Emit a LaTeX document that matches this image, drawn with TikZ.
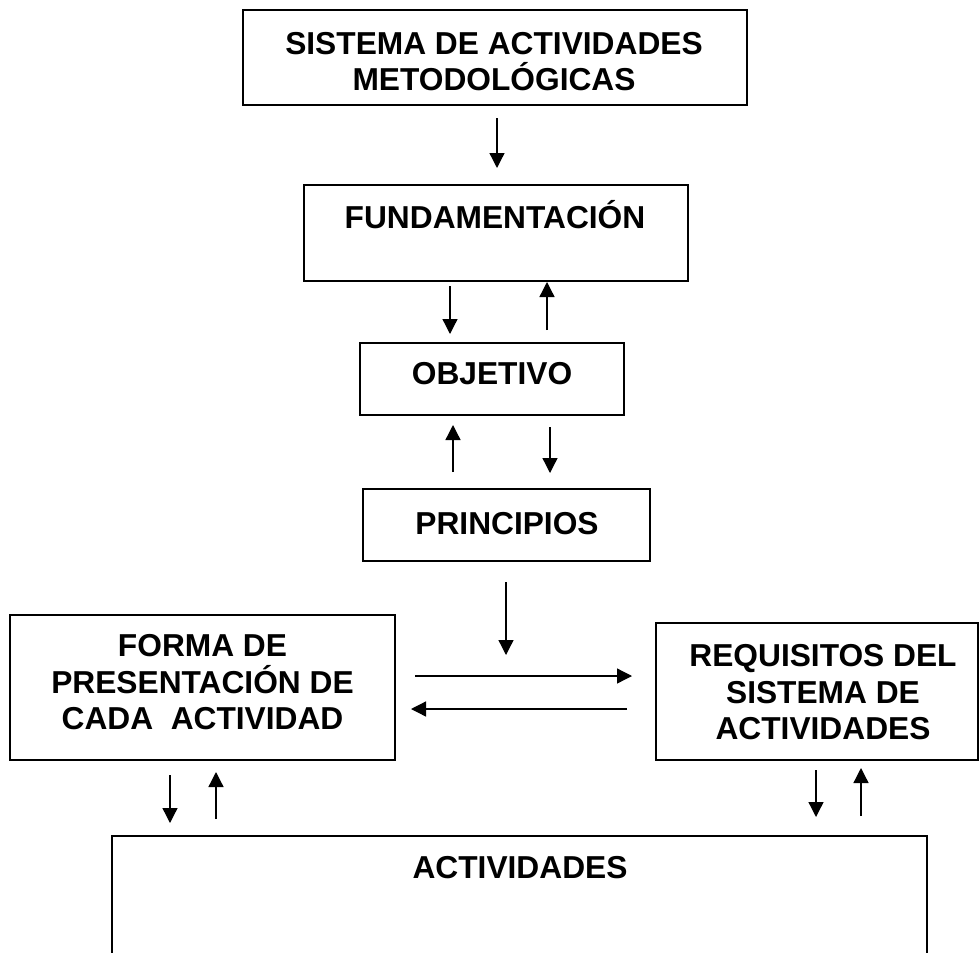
\documentclass[tikz,border=0pt]{standalone}
\usepackage{fontspec}
\setmainfont{Liberation Sans}
\usetikzlibrary{arrows.meta}
\tikzset{
  box/.style={draw, line width=1.6pt, inner sep=0pt, minimum width=#1},
  txt/.style={font=\fontsize{31.7}{36.5}\selectfont\bfseries, align=center, inner sep=0pt, text height=22.7pt, text depth=0pt},
  arr/.style={line width=1.3pt, -{Triangle[length=15pt,width=15pt]}}
}
\begin{document}
\begin{tikzpicture}[x=1pt,y=-1pt]
\useasboundingbox (0,0) rectangle (980,953);
\clip (0,0) rectangle (980,953);
% boxes
\node[box=504pt, minimum height=95pt] (top) at (495,57.5) {};
\node[box=384pt, minimum height=96pt] (fund) at (496,233) {};
\node[box=264pt, minimum height=72pt] (obj) at (492,379) {};
\node[box=287pt, minimum height=72pt] (princ) at (506.5,525) {};
\node[box=385pt, minimum height=145pt] (forma) at (202.5,687.5) {};
\node[box=322pt, minimum height=137pt] (req) at (817,691.5) {};
\node[box=815pt, minimum height=160pt] (act) at (519.5,916) {};
% texts
\node[txt, text height=59.2pt] (topT) at (494,61) {SISTEMA DE ACTIVIDADES\\METODOLÓGICAS};
\node[txt] (fundT) at (495,217) {FUNDAMENTACIÓN};
\node[txt] (objT) at (492,373) {OBJETIVO};
\node[txt] (princT) at (507,523) {PRINCIPIOS};
\node[txt, text height=95.7pt] (formaT) at (202.5,682) {FORMA DE\\PRESENTACIÓN DE\\CADA\ \ ACTIVIDAD};
\node[txt, text height=95.7pt] (reqT) at (823,692) {REQUISITOS DEL\\SISTEMA DE\\ACTIVIDADES};
\node[txt] (actT) at (520,867) {ACTIVIDADES};
% arrow end points
\coordinate (a1s) at (497,118);  \coordinate (a1e) at (497,168);
\coordinate (a2s) at (450,286);  \coordinate (a2e) at (450,334);
\coordinate (a3s) at (547,330);  \coordinate (a3e) at (547,282);
\coordinate (a4s) at (453,472);  \coordinate (a4e) at (453,425);
\coordinate (a5s) at (550,427);  \coordinate (a5e) at (550,473);
\coordinate (a6s) at (506,582);  \coordinate (a6e) at (506,655);
\coordinate (a7s) at (415,676);  \coordinate (a7e) at (632,676);
\coordinate (a8s) at (627,709);  \coordinate (a8e) at (411,709);
\coordinate (a9s) at (170,775);  \coordinate (a9e) at (170,823);
\coordinate (b1s) at (216,819);  \coordinate (b1e) at (216,772);
\coordinate (b2s) at (816,770);  \coordinate (b2e) at (816,817);
\coordinate (b3s) at (861,816);  \coordinate (b3e) at (861,768);
\draw[arr] (a1s) -- (a1e);
\draw[arr] (a2s) -- (a2e);
\draw[arr] (a3s) -- (a3e);
\draw[arr] (a4s) -- (a4e);
\draw[arr] (a5s) -- (a5e);
\draw[arr] (a6s) -- (a6e);
\draw[arr] (a7s) -- (a7e);
\draw[arr] (a8s) -- (a8e);
\draw[arr] (a9s) -- (a9e);
\draw[arr] (b1s) -- (b1e);
\draw[arr] (b2s) -- (b2e);
\draw[arr] (b3s) -- (b3e);
\end{tikzpicture}
\end{document}
